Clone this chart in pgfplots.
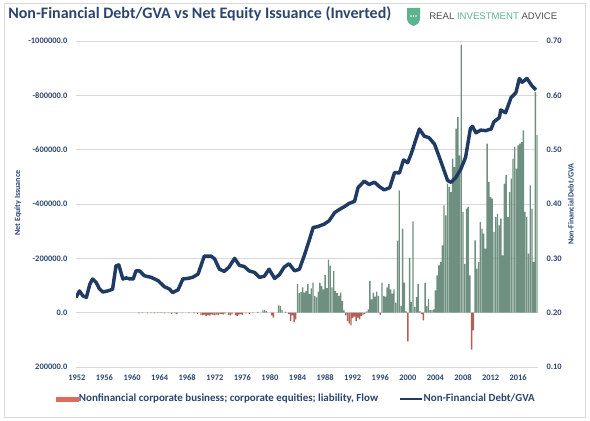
\documentclass[border=0pt]{standalone}
\usepackage{pgfplots}
\pgfplotsset{compat=1.18}
\usepackage{fontspec}
\setmainfont{Carlito}
\newfontfamily\logofont{Liberation Sans}
\definecolor{tickcol}{HTML}{2A4470}
\definecolor{titlecol}{HTML}{2B4570}
\definecolor{linecol}{HTML}{1F3B63}
\definecolor{bargreen}{HTML}{6F9080}
\definecolor{barlight}{HTML}{A9C0B2}
\definecolor{barred}{HTML}{B0605A}
\definecolor{legendred}{HTML}{E06A5C}
\definecolor{gridgray}{HTML}{D9D9D9}
\definecolor{logogreen}{HTML}{5CB38F}
\definecolor{logogray}{HTML}{4D4D4D}
\begin{document}
\begin{tikzpicture}
\path[use as bounding box] (0,0) rectangle (442.5pt,315.75pt);
\begin{scope}[x=0.75pt,y=0.75pt]
\draw[gridgray,line width=0.6pt] (4,4) rectangle (585,418);
\node[anchor=west,font=\bfseries\fontsize{12}{14}\selectfont,text=titlecol,inner sep=0pt] at (8,407) {Non-Financial Debt/GVA vs Net Equity Issuance (Inverted)};
\fill[logogreen] (407,413) -- (420,413) -- (420,402) .. controls (420,398) and (416,396) .. (413.5,395) .. controls (411,396) and (407,398) .. (407,402) -- cycle;
\fill[white] (411,405) circle (0.8) (413.5,405) circle (0.8) (416,405) circle (0.8);
\node[anchor=west,inner sep=0pt,font=\logofont\fontsize{7.2}{8}\selectfont] at (429,404.5) {\textcolor{logogray}{REAL} \textcolor{logogreen}{INVESTMENT} \textcolor{logogray}{ADVICE}};
\node[rotate=90,font=\bfseries\fontsize{6}{7}\selectfont,text=tickcol] at (18,218) {Net Equity Issuance};
\node[rotate=90,font=\bfseries\fontsize{6}{7}\selectfont,text=tickcol] at (571,217) {Non-Financial Debt/GVA};
\end{scope}
\begin{axis}[
  at={(57pt,40.5pt)}, anchor=south west,
  width=346.5pt, height=244.5pt, scale only axis,
  xmin=1952, xmax=2019,
  ymin=-1000000, ymax=200000, y dir=reverse,
  ytick={-1000000,-800000,-600000,-400000,-200000,0,200000},
  scaled y ticks=false,
  yticklabel style={/pgf/number format/fixed, /pgf/number format/fixed zerofill, /pgf/number format/precision=1, /pgf/number format/1000 sep={}, /pgf/number format/assume math mode=true, xshift=-3pt},
  xtick={1952.125,1956.125,1960.125,1964.125,1968.125,1972.125,1976.125,1980.125,1984.125,1988.125,1992.125,1996.125,2000.125,2004.125,2008.125,2012.125,2016.125},
  xticklabels={1952,1956,1960,1964,1968,1972,1976,1980,1984,1988,1992,1996,2000,2004,2008,2012,2016},
  tick label style={font=\bfseries\fontsize{6.3}{7}\selectfont, text=tickcol},
  xticklabel style={yshift=-2.5pt},
  axis line style={draw=none}, major tick length=0pt,
  ymajorgrids, grid style={color=gridgray, line width=0.6pt},
]
% buybacks (negative net issuance) - green
\addplot[ybar, bar width=0.2, bar shift=0pt, fill=bargreen, draw=none] coordinates {
(1978.375,-3000) (1979.125,-8000) (1979.375,-10000) (1979.625,-6000)
(1981.375,-27000) (1981.625,-25000) (1981.875,-10000) (1982.375,-4000)
(1984.125,-105000) (1984.375,-72000) (1984.625,-76000) (1984.875,-93000)
(1985.125,-74000) (1985.375,-80000) (1985.625,-105000) (1985.875,-68000)
(1986.125,-89000) (1986.375,-111000) (1986.625,-62000) (1986.875,-56000)
(1987.125,-77000) (1987.375,-111000) (1987.625,-99000) (1987.875,-86000)
(1988.125,-138000) (1988.375,-90000) (1988.625,-195000) (1988.875,-173000)
(1989.125,-93000) (1989.375,-154000) (1989.625,-80000) (1989.875,-72000)
(1990.125,-62000) (1990.375,-74000) (1990.625,-43000) (1990.875,-8000)
(1994.125,-5000) (1994.375,-12000) (1994.625,-117000) (1994.875,-49000)
(1995.125,-74000) (1995.375,-59000) (1995.625,-77000) (1995.875,-62000)
(1996.375,-111000) (1996.625,-62000) (1996.875,-59000)
(1997.125,-93000) (1997.375,-105000) (1997.625,-86000) (1997.875,-70000)
(1998.125,-86000) (1998.375,-37000) (1998.625,-265000) (1998.875,-450000)
(1999.125,-25000) (1999.375,-309000) (1999.625,-111000) (1999.875,-5000)
(2000.375,-202000) (2000.625,-39000) (2000.875,-336000)
(2001.125,-21000) (2001.375,-57000) (2001.625,-106000) (2001.875,-5000)
(2002.625,-110000) (2002.875,-24000)
(2003.125,-51000) (2003.375,-9000) (2003.625,-9000) (2003.875,-12000)
(2004.125,-82000) (2004.375,-137000) (2004.625,-174000) (2004.875,-186000)
(2005.125,-248000) (2005.375,-395000) (2005.625,-358000) (2005.875,-475000)
(2006.125,-463000) (2006.375,-444000) (2006.625,-567000) (2006.875,-536000)
(2007.125,-677000) (2007.375,-720000) (2007.625,-579000) (2007.875,-987000)
(2008.125,-371000) (2008.375,-180000) (2008.625,-383000) (2008.875,-389000)
(2009.125,-137000) (2009.875,-266000)
(2010.125,-162000) (2010.375,-186000) (2010.625,-334000) (2010.875,-309000)
(2011.125,-291000) (2011.375,-236000) (2011.625,-622000) (2011.875,-481000)
(2012.125,-426000) (2012.375,-420000) (2012.625,-297000) (2012.875,-352000)
(2013.125,-364000) (2013.375,-321000) (2013.625,-346000) (2013.875,-211000)
(2014.125,-475000) (2014.375,-506000) (2014.625,-352000) (2014.875,-444000)
(2015.125,-493000) (2015.375,-567000) (2015.625,-610000) (2015.875,-530000)
(2016.125,-616000) (2016.375,-622000) (2016.625,-628000) (2016.875,-671000)
(2017.125,-371000) (2017.375,-352000) (2017.625,-217000) (2017.875,-469000)
(2018.125,-383000) (2018.375,-186000) (2018.625,-812000)
};
\addplot[ybar, bar width=0.2, bar shift=0pt, fill=barlight, draw=none] coordinates {
(2018.875,-653000)
};
% net issuance (positive) - red
\addplot[ybar, bar width=0.2, bar shift=0pt, fill=barred, draw=none] coordinates {
(1961.125,3000) (1961.625,2000) (1962.375,3000) (1962.875,2000)
(1963.375,3000) (1963.875,2000) (1964.375,2000) (1964.875,3000)
(1965.375,2000) (1965.875,4000) (1966.375,3000) (1966.625,5000)
(1967.375,2000) (1968.375,2000) (1969.125,3000) (1969.625,4000)
(1970.125,8000) (1970.375,10000) (1970.625,7000) (1970.875,12000)
(1971.125,9000) (1971.375,11000) (1971.625,6000) (1971.875,8000)
(1972.125,10000) (1972.375,7000) (1972.625,9000) (1972.875,5000)
(1973.125,4000) (1973.375,6000) (1973.625,3000)
(1974.125,8000) (1974.375,10000) (1974.625,6000)
(1975.125,9000) (1975.375,12000) (1975.625,7000) (1975.875,5000)
(1976.125,8000) (1976.625,3000) (1977.125,4000) (1977.625,2000)
(1980.375,10000) (1980.625,18000) (1982.875,5000)
(1983.125,30000) (1983.375,10000) (1983.625,35000) (1983.875,25000)
(1991.125,10000) (1991.375,31000) (1991.625,40000) (1991.875,47000)
(1992.125,20000) (1992.375,15000) (1992.625,30000) (1992.875,18000)
(1993.125,25000) (1993.375,12000) (1993.625,8000) (1993.875,5000)
(1996.125,8000) (2000.125,106000) (2002.125,5000) (2002.375,28000)
(2009.375,136000) (2009.625,65000)
};
\end{axis}
\begin{axis}[
  at={(57pt,40.5pt)}, anchor=south west,
  width=346.5pt, height=244.5pt, scale only axis,
  xmin=1952, xmax=2019,
  ymin=0.1, ymax=0.7,
  axis y line*=right, axis x line=none,
  ytick={0.1,0.2,0.3,0.4,0.5,0.6,0.7},
  yticklabel style={/pgf/number format/fixed, /pgf/number format/fixed zerofill, /pgf/number format/precision=2, /pgf/number format/assume math mode=true, xshift=3pt},
  tick label style={font=\bfseries\fontsize{6.3}{7}\selectfont, text=tickcol},
  axis line style={draw=none}, major tick length=0pt,
  legend columns=2,
  legend cell align=left,
  legend style={at={(0.476,-0.098)}, anchor=center, draw=none, fill=none,
    font=\bfseries\fontsize{8.2}{9}\selectfont, text=tickcol,
    nodes={inner sep=0.6pt},
    /tikz/every even column/.append style={column sep=15pt}},
]
\addlegendimage{legend image code/.code={\fill[legendred] (0pt,-1.6pt) rectangle (16pt,1.6pt);}}
\addlegendentry{Nonfinancial corporate business; corporate equities; liability, Flow}
\addplot[linecol, line width=2.6pt, line join=round,
  legend image code/.code={\draw[linecol,line width=2pt] (0pt,0pt) -- (16pt,0pt);}] coordinates {
(1952.0,0.228) (1952.5,0.240) (1953.0,0.231) (1953.5,0.228) (1954.0,0.252)
(1954.4,0.262) (1954.9,0.256) (1955.4,0.244) (1955.9,0.238) (1956.6,0.240)
(1957.3,0.243) (1957.8,0.286) (1958.2,0.288) (1958.8,0.262) (1959.3,0.264)
(1959.8,0.262) (1960.3,0.262) (1960.7,0.277) (1961.2,0.277) (1961.9,0.268)
(1962.9,0.265) (1963.9,0.259) (1964.8,0.248) (1965.6,0.243) (1966.0,0.237)
(1966.8,0.242) (1967.5,0.262) (1968.2,0.263) (1968.9,0.265) (1969.7,0.271)
(1970.6,0.304) (1971.6,0.304) (1972.1,0.299) (1972.8,0.280) (1973.5,0.276)
(1974.2,0.284) (1975.0,0.300) (1975.7,0.287) (1976.4,0.285) (1977.1,0.277)
(1977.9,0.274) (1978.6,0.265) (1979.3,0.267) (1980.0,0.280) (1980.8,0.263)
(1981.5,0.270) (1982.2,0.284) (1982.9,0.290) (1983.7,0.277) (1984.4,0.280)
(1985.1,0.305) (1985.8,0.332) (1986.4,0.357) (1987.0,0.358) (1988.0,0.363)
(1988.7,0.369) (1989.5,0.384) (1990.2,0.390) (1990.9,0.395) (1991.6,0.401)
(1992.4,0.405) (1992.9,0.430) (1993.8,0.442) (1994.5,0.436) (1995.3,0.440)
(1996.0,0.432) (1996.7,0.426) (1997.5,0.430) (1998.2,0.458) (1998.9,0.457)
(1999.5,0.481) (2000.1,0.476) (2000.6,0.492) (2001.3,0.519) (2001.8,0.538)
(2002.5,0.525) (2003.2,0.522) (2004.0,0.510) (2004.7,0.486) (2005.4,0.461)
(2005.9,0.443) (2006.4,0.440) (2007.1,0.449) (2007.8,0.464) (2008.5,0.486)
(2009.2,0.539) (2009.5,0.543) (2010.0,0.531) (2010.7,0.536) (2011.4,0.535)
(2012.2,0.538) (2012.6,0.551) (2013.4,0.559) (2013.6,0.573) (2014.3,0.568)
(2015.1,0.596) (2015.8,0.605) (2016.3,0.631) (2016.7,0.624) (2017.4,0.631)
(2018.1,0.618) (2018.7,0.610)
};
\addlegendentry{Non-Financial Debt/GVA}
\end{axis}
\end{tikzpicture}
\end{document}
